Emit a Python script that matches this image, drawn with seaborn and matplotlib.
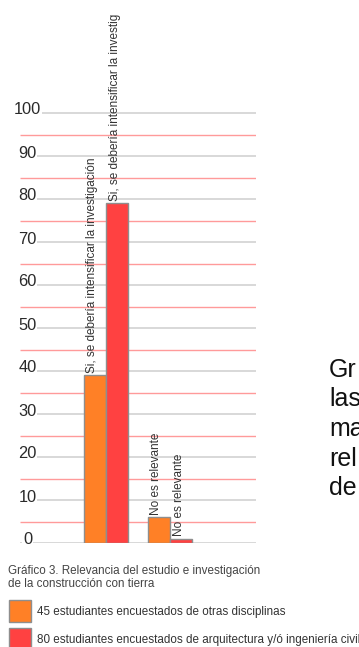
import matplotlib
matplotlib.use("Agg")
import matplotlib.pyplot as plt
import matplotlib.transforms as mtransforms
from matplotlib.patches import Rectangle
import seaborn as sns
import pandas as pd

# ---- data ----
answers = ["Si", "No"]
groups = ["45 estudiantes encuestados de otras disciplinas",
          "80 estudiantes encuestados de arquitectura y/ó ingeniería civil"]
otras_disciplinas = [39, 6]
arquitectura_ingenieria = [79, 1]
bar_labels_otras = ["Si, se debería intensificar la investigación", "No es relevante"]
bar_labels_arq = ["Si, se debería intensificar la investig", "No es relevante"]
y_ticks = [0, 10, 20, 30, 40, 50, 60, 70, 80, 90, 100]
minor_lines = [5, 15, 25, 35, 45, 55, 65, 75, 85, 95]
caption = ["Gráfico 3. Relevancia del estudio e investigación",
           "de la construcción con tierra"]
side_text = ["Gr", "las", "ma", "rel", "de"]

colors = ["#ff8026", "#ff4141"]

df = pd.DataFrame({
    "respuesta": answers * 2,
    "grupo": [groups[0]] * 2 + [groups[1]] * 2,
    "valor": otras_disciplinas + arquitectura_ingenieria,
})

W, H = 359, 647
sns.set_theme(style="white")
plt.rcParams["font.family"] = ["Liberation Sans", "DejaVu Sans"]

fig = plt.figure(figsize=(W / 100, H / 100), dpi=100)


def fx(x):
    return x / W


def fy(y):
    return 1 - y / H


# plot area: x from 20 to 256 px, value 0 at y=543 px, 10 units = 43 px
ax = fig.add_axes([fx(20), fy(543), (256 - 20) / W, 543 / H])
sns.barplot(data=df, x="respuesta", y="valor", hue="grupo", hue_order=groups,
            order=answers, palette=colors, width=0.69, dodge=True,
            edgecolor="#8e8e8e", linewidth=1.0, saturation=1, legend=False,
            ax=ax, zorder=3)

ax.set_xlim(-1.344, 2.344)
ax.set_ylim(0, 543 / 4.3)
ax.hlines(y_ticks, -1.344, 2.344, colors="#d8d8d8", linewidth=1.4, zorder=1)
ax.hlines(minor_lines, -1.344, 2.344, colors="#ff9a9a", linewidth=1.0, zorder=1)
for s in ax.spines.values():
    s.set_visible(False)
ax.set_xticks([])
ax.set_yticks([])
ax.set_xlabel("")
ax.set_ylabel("")

# value axis labels, centred at x=27.5 px, sitting on their gridline
trans_lbl = mtransforms.blended_transform_factory(fig.transFigure, ax.transData)
shift = mtransforms.ScaledTranslation(0, -1.5 / 100, fig.dpi_scale_trans)
for v in y_ticks:
    ax.text(fx(27.5), v, str(v), transform=trans_lbl + shift,
            ha="center", va="baseline", fontsize=11.8, color="#2a2a2a",
            bbox=dict(facecolor="white", edgecolor="none", pad=0.3), zorder=2)

# rotated labels above each bar
bars = sorted(ax.patches, key=lambda p: p.get_x())
labels_by_bar = [bar_labels_otras[0], bar_labels_arq[0], bar_labels_otras[1], bar_labels_arq[1]]
for p, lab in zip(bars, labels_by_bar):
    cx = p.get_x() + p.get_width() / 2
    ax.annotate(lab, (cx, p.get_height()), xytext=(-2.5, 2.5), textcoords="offset pixels",
                rotation=90, ha="center", va="bottom", fontsize=8.5, color="#333333",
                annotation_clip=False, zorder=4)

# caption
fig.text(fx(8), fy(571), caption[0], ha="left", va="center", fontsize=8.4, color="#444444")
fig.text(fx(8), fy(584), caption[1], ha="left", va="center", fontsize=8.4, color="#444444")

# legend
for i, (g, c) in enumerate(zip(groups, colors)):
    top = 600 + i * 28
    fig.patches.append(Rectangle((fx(9), fy(top + 22)), 22 / W, 22 / H,
                                 transform=fig.transFigure, facecolor=c,
                                 edgecolor="#8e8e8e", linewidth=1.0))
    fig.text(fx(37), fy(top + 12), g, ha="left", va="center", fontsize=8.4, color="#333333")

# body text beside the chart, running off the right edge of the page
for i, t in enumerate(side_text):
    fig.text(fx(329), fy(377 + 29.5 * i), t, ha="left", va="baseline", fontsize=18, color="#111111")

fig.savefig("out.png", dpi=100, facecolor="white")
